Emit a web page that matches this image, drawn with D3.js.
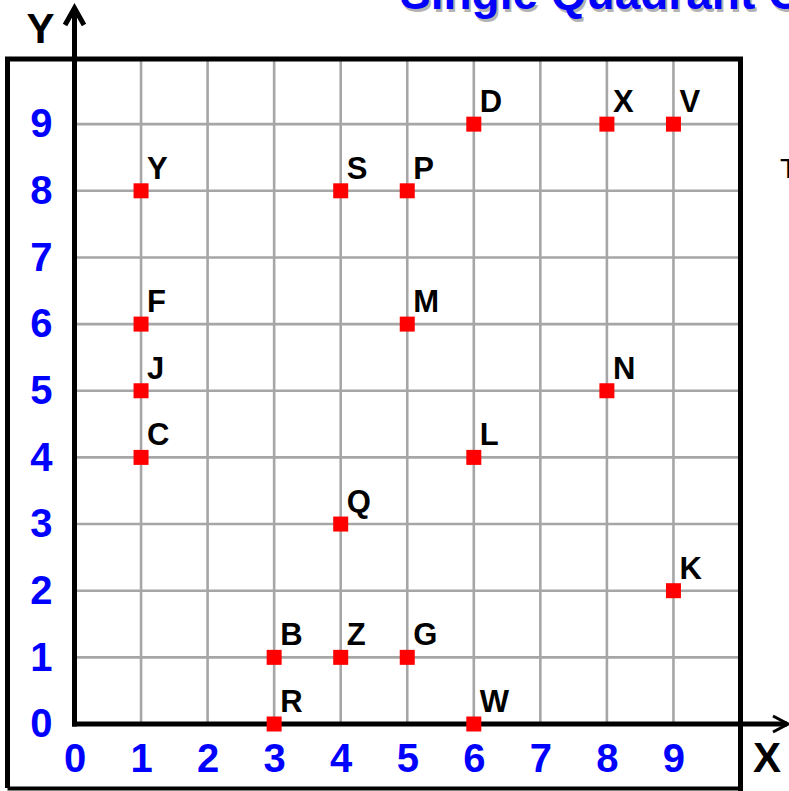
<!DOCTYPE html>
<html>
<head>
<meta charset="utf-8">
<script src="https://cdn.jsdelivr.net/npm/d3@7"></script>
<style>
  html, body { margin: 0; padding: 0; background: #fff; }
  svg { display: block; font-family: "Liberation Sans", Arial, sans-serif; }
</style>
</head>
<body>
<svg id="chart" width="789" height="791"></svg>
<script>
// points du quadrant : nom, x, y
var noms = ["Y", "S", "P", "D", "X", "V", "F", "M", "J", "N", "C", "L", "Q", "K", "B", "Z", "G", "R", "W"];
var px = [1, 4, 5, 6, 8, 9, 1, 5, 1, 8, 1, 6, 4, 9, 3, 4, 5, 3, 6];
var py = [8, 8, 8, 9, 9, 9, 6, 6, 5, 5, 4, 4, 3, 2, 1, 1, 1, 0, 0];
var ticks = [0, 1, 2, 3, 4, 5, 6, 7, 8, 9];
var grille = [1, 2, 3, 4, 5, 6, 7, 8, 9];
var titre = "Single Quadrant Graphs";

var svg = d3.select("#chart");

var xScale = d3.scaleLinear().domain([0, 10]).range([74.5, 740]);
var yScale = d3.scaleLinear().domain([0, 10]).range([724, 57.5]);

/* titre bleu avec ombre grise */
svg.append("text")
    .attr("x", 402).attr("y", 12)
    .attr("font-size", 46).attr("font-weight", "bold")
    .attr("fill", "#b3b3b3")
    .text(titre);
svg.append("text")
    .attr("x", 400).attr("y", 9)
    .attr("font-size", 46).attr("font-weight", "bold")
    .attr("fill", "#0000ff")
    .text(titre);

/* texte coupé à droite */
svg.append("text")
    .attr("x", 780).attr("y", 178)
    .attr("font-size", 28)
    .attr("fill", "#000")
    .text("T");

/* lignes de la grille */
svg.selectAll("line.vgrid")
    .data(grille)
    .enter()
    .append("line")
    .attr("class", "vgrid")
    .attr("x1", function (d) { return xScale(d); })
    .attr("x2", function (d) { return xScale(d); })
    .attr("y1", yScale(0))
    .attr("y2", 59)
    .attr("stroke", "#a6a6a6")
    .attr("stroke-width", 2.6);
svg.selectAll("line.hgrid")
    .data(grille)
    .enter()
    .append("line")
    .attr("class", "hgrid")
    .attr("y1", function (d) { return yScale(d); })
    .attr("y2", function (d) { return yScale(d); })
    .attr("x1", xScale(0))
    .attr("x2", 740)
    .attr("stroke", "#a6a6a6")
    .attr("stroke-width", 2.6);

/* cadre noir */
svg.append("path")
    .attr("d", "M 7.5 788 L 7.5 59 L 740.5 59 L 740.5 791")
    .attr("fill", "none")
    .attr("stroke", "#000")
    .attr("stroke-width", 5);
svg.append("line")
    .attr("x1", 7.5).attr("x2", 740.5)
    .attr("y1", 788.5).attr("y2", 788.5)
    .attr("stroke", "#000")
    .attr("stroke-width", 4);

/* axes avec flèches */
svg.append("line")
    .attr("x1", xScale(0)).attr("x2", xScale(0))
    .attr("y1", yScale(0) + 2.5).attr("y2", 9)
    .attr("stroke", "#000").attr("stroke-width", 5);
svg.append("path")
    .attr("d", "M 65 25 L 74.5 8 L 84 25")
    .attr("fill", "none").attr("stroke", "#000").attr("stroke-width", 5);
svg.append("line")
    .attr("x1", xScale(0) - 2.5).attr("x2", 787)
    .attr("y1", yScale(0)).attr("y2", yScale(0))
    .attr("stroke", "#000").attr("stroke-width", 5);
svg.append("path")
    .attr("d", "M 773 716 L 788 724 L 773 732")
    .attr("fill", "none").attr("stroke", "#000").attr("stroke-width", 3);

/* étiquettes des axes */
var axeX = svg.append("g")
    .attr("transform", "translate(0," + yScale(0) + ")")
    .call(d3.axisBottom(xScale).tickValues(ticks).tickSize(0).tickPadding(19.5));
var axeY = svg.append("g")
    .attr("transform", "translate(" + xScale(0) + ",0)")
    .call(d3.axisLeft(yScale).tickValues(ticks).tickSize(0).tickPadding(22));
[axeX, axeY].forEach(function (a) {
    a.select(".domain").remove();
    a.selectAll("text")
        .attr("font-family", "\"Liberation Sans\", Arial, sans-serif")
        .attr("font-size", 40)
        .attr("font-weight", "bold")
        .attr("fill", "#0000ff");
});

svg.append("text")
    .attr("x", 40.5).attr("y", 43)
    .attr("text-anchor", "middle")
    .attr("font-size", 42).attr("font-weight", "bold")
    .text("Y");
svg.append("text")
    .attr("x", 767).attr("y", 772)
    .attr("text-anchor", "middle")
    .attr("font-size", 42).attr("font-weight", "bold")
    .text("X");

/* points rouges et leurs noms */
var points = d3.range(noms.length);
svg.selectAll("rect.pt")
    .data(points)
    .enter()
    .append("rect")
    .attr("class", "pt")
    .attr("x", function (i) { return xScale(px[i]) - 7.5; })
    .attr("y", function (i) { return yScale(py[i]) - 7.5; })
    .attr("width", 15)
    .attr("height", 15)
    .attr("fill", "#ff0000");
svg.selectAll("text.nom")
    .data(points)
    .enter()
    .append("text")
    .attr("class", "nom")
    .attr("x", function (i) { return xScale(px[i]) + 6; })
    .attr("y", function (i) { return yScale(py[i]) - 12; })
    .attr("font-size", 31)
    .attr("font-weight", "bold")
    .attr("fill", "#000")
    .text(function (i) { return noms[i]; });
</script>
</body>
</html>
